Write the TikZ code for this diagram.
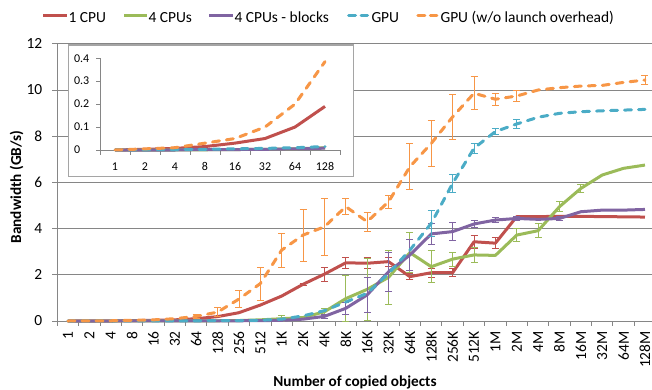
\documentclass[tikz,border=0pt]{standalone}
\usepackage{fontspec}
\setmainfont{Carlito}
\usetikzlibrary{arrows.meta}

\definecolor{cpuone}{RGB}{192,80,77}
\definecolor{cpufour}{RGB}{155,187,89}
\definecolor{cpublk}{RGB}{128,100,162}
\definecolor{gpuplain}{RGB}{75,172,198}
\definecolor{gpunolaunch}{RGB}{247,150,70}
\definecolor{gridgray}{RGB}{134,134,134}
\definecolor{framegray}{RGB}{165,165,165}

\begin{document}
\begin{tikzpicture}[x=1bp, y=1bp,
    series/.style={line width=3bp, line join=round},
    dashser/.style={series, line cap=round, dash pattern=on 7bp off 7bp},
    errbar/.style={line width=0.9bp, {Bar[width=7bp]}-{Bar[width=7bp]}},
    ticklab/.style={font=\fontsize{15.5}{18}\selectfont},
    insetlab/.style={font=\fontsize{12}{14}\selectfont},
    axtitle/.style={font=\fontsize{15.3}{18}\selectfont\bfseries}]
    \useasboundingbox (0,0) rectangle (652,389);

    % Grid lines, y axis, y labels
    \foreach \v in {2,4,...,12}
        \draw[gridgray, line width=1bp] (57.3,68+23.1*\v) -- (652,68+23.1*\v);
    \draw[gridgray, line width=1bp] (57.3,68) -- (57.3,345.2);
    \foreach \v in {0,2,...,12} {
        \draw[gridgray, line width=1bp] (52,68+23.1*\v) -- (57.3,68+23.1*\v);
        \node[ticklab, anchor=east, inner sep=0pt] (ylab\v) at (42.5,68+23.1*\v) {\v};
    }

    % x axis with category ticks
    \draw[gridgray, line width=1bp] (57.3,68) -- (652,68);
    \foreach \k in {0,...,27}
        \draw[gridgray, line width=1bp] (57.3+21.37*\k,68) -- (57.3+21.37*\k,63.5);
    \foreach \lab [count=\i from 0] in {1,2,4,8,16,32,64,128,256,512,1K,2K,4K,8K,16K,32K,64K,128K,256K,512K,1M,2M,4M,8M,16M,32M,64M,128M}
        \node[ticklab, rotate=90, anchor=east, inner sep=0pt] (xlab\i) at (67.985+21.37*\i,58) {\lab};

    % Axis titles
    \node[axtitle, rotate=90] (ytitle) at (16.7,202) {Bandwidth (GB/s)};
    \node[axtitle, anchor=base] (xtitle) at (355,2.5) {Number of copied objects};

    % Legend
    \draw[series, cpuone] (43.3,373.3) -- (66.7,373.3);
    \node[ticklab, anchor=base west, inner sep=0pt] (legA) at (68.3,366.3) {1 CPU};
    \draw[series, cpufour] (124,373.3) -- (146.7,373.3);
    \node[ticklab, anchor=base west, inner sep=0pt] (legB) at (148.3,366.3) {4 CPUs};
    \draw[series, cpublk] (209.3,373.3) -- (233.3,373.3);
    \node[ticklab, anchor=base west, inner sep=0pt] (legC) at (234.3,366.3) {4 CPUs - blocks};
    \draw[series, gpuplain, line cap=round, dash pattern=on 7bp off 5.5bp] (348.5,373.3) -- (367.5,373.3);
    \node[ticklab, anchor=base west, inner sep=0pt] (legD) at (371.3,366.3) {GPU};
    \draw[series, gpunolaunch, line cap=round, dash pattern=on 7bp off 5.5bp] (417.8,373.3) -- (436.8,373.3);
    \node[ticklab, anchor=base west, inner sep=0pt] (legE) at (440.3,366.3) {GPU (w/o launch overhead)};

    % Main chart: category i at x=i, value in GB/s
    \begin{scope}[shift={(67.985,68)}, x=21.37bp, y=23.1bp]
        % 1 CPU
        \draw[series, cpuone] plot coordinates {(0,0) (1,0.003) (2,0.007) (3,0.015) (4,0.03) (5,0.05) (6,0.1) (7,0.19) (8,0.36) (9,0.69) (10,1.08) (11,1.59) (12,2.03) (13,2.52) (14,2.5) (15,2.57) (16,1.92) (17,2.09) (18,2.09) (19,3.43) (20,3.37) (21,4.52) (22,4.52) (23,4.53) (24,4.53) (25,4.52) (26,4.51) (27,4.5)};
        \foreach \i/\v/\e in {11/1.59/0.06, 12/2.03/0.32, 13/2.52/0.25, 14/2.5/0.25, 15/2.57/0.22, 16/1.92/0.14, 17/2.09/0.22, 18/2.09/0.2, 19/3.43/0.29, 20/3.37/0.25}
            \draw[errbar, cpuone] (\i,\v-\e) -- (\i,\v+\e);

        % 4 CPUs
        \draw[series, cpufour] plot coordinates {(0,0) (1,0) (2,0) (3,0.001) (4,0.002) (5,0.003) (6,0.005) (7,0.01) (8,0.02) (9,0.05) (10,0.1) (11,0.15) (12,0.4) (13,0.97) (14,1.37) (15,1.89) (16,2.96) (17,2.35) (18,2.68) (19,2.86) (20,2.84) (21,3.72) (22,3.91) (23,4.95) (24,5.74) (25,6.32) (26,6.61) (27,6.75)};
        \foreach \i/\v/\e in {10/0.1/0.15, 12/0.4/0.17, 13/0.97/1.0, 14/1.37/1.37, 15/1.89/1.19, 16/2.96/0.88, 17/2.35/0.72, 18/2.68/0.32, 19/2.86/0.36, 21/3.72/0.31, 22/3.91/0.32, 23/4.95/0.23, 24/5.74/0.19}
            \draw[errbar, cpufour] (\i,\v-\e) -- (\i,\v+\e);

        % 4 CPUs - blocks
        \draw[series, cpublk] plot coordinates {(0,0) (1,0) (2,0) (3,0.002) (4,0.002) (5,0.003) (6,0.005) (7,0.008) (8,0.01) (9,0.015) (10,0.03) (11,0.08) (12,0.2) (13,0.55) (14,1.13) (15,2.13) (16,2.86) (17,3.77) (18,3.87) (19,4.2) (20,4.37) (21,4.44) (22,4.4) (23,4.44) (24,4.73) (25,4.8) (26,4.8) (27,4.83)};
        \foreach \i/\v/\e in {12/0.2/0.1, 13/0.55/0.29, 14/1.13/0.77, 15/2.13/0.87, 16/2.86/0.69, 17/3.77/0.49, 18/3.87/0.41, 19/4.2/0.18, 20/4.37/0.14, 21/4.44/0.1, 23/4.44/0.12}
            \draw[errbar, cpublk] (\i,\v-\e) -- (\i,\v+\e);

        % GPU
        \draw[dashser, gpuplain] plot coordinates {(0,0) (1,0.001) (2,0.002) (3,0.003) (4,0.005) (5,0.007) (6,0.01) (7,0.015) (8,0.02) (9,0.03) (10,0.08) (11,0.22) (12,0.45) (13,0.82) (14,1.2) (15,2.06) (16,3.07) (17,4.23) (18,5.96) (19,7.48) (20,8.2) (21,8.53) (22,8.82) (23,8.99) (24,9.06) (25,9.1) (26,9.13) (27,9.16)};
        \foreach \i/\v/\e in {17/4.23/0.58, 18/5.96/0.4, 19/7.48/0.24, 20/8.2/0.16, 21/8.53/0.22}
            \draw[errbar, gpuplain] (\i,\v-\e) -- (\i,\v+\e);

        % GPU without launch overhead
        \draw[dashser, gpunolaunch] plot coordinates {(0,0) (1,0.005) (2,0.01) (3,0.03) (4,0.05) (5,0.1) (6,0.2) (7,0.385) (8,0.95) (9,1.62) (10,3.07) (11,3.72) (12,4.08) (13,4.95) (14,4.3) (15,5.16) (16,6.68) (17,7.69) (18,8.84) (19,9.86) (20,9.6) (21,9.74) (22,10.0) (23,10.1) (24,10.17) (25,10.2) (26,10.33) (27,10.43)};
        \foreach \i/\v/\e in {6/0.2/0.1, 7/0.385/0.2, 8/0.95/0.4, 9/1.62/0.73, 10/3.07/0.76, 11/3.72/1.15, 12/4.08/1.26, 13/4.95/0.37, 14/4.3/0.43, 15/5.16/0.29, 16/6.68/1.01, 17/7.69/1.0, 18/8.84/1.0, 19/9.86/0.74, 20/9.6/0.27, 21/9.74/0.27, 27/10.43/0.22}
            \draw[errbar, gpunolaunch] (\i,\v-\e) -- (\i,\v+\e);
    \end{scope}

    % Inset: zoom on the small sizes
    \draw[framegray, fill=white, line width=1.2bp] (68.3,212.3) rectangle (353.3,344);
    \begin{scope}[shift={(100,239)}, x=30bp, y=229.5bp]
        \draw[gridgray, line width=1bp] (0,0) -- (0,0.4);
        \draw[gridgray, line width=1bp] (0,0) -- (8,0);
        \foreach \v in {0,0.1,0.2,0.3,0.4} {
            \draw[gridgray, line width=1bp] (-0.13,\v) -- (0,\v);
            \node[insetlab, anchor=west, inner sep=0pt] (iylab\v) at (-0.87,\v) {\v};
        }
        \foreach \k in {0,...,8}
            \draw[gridgray, line width=1bp] (\k,0) -- (\k,-0.02);
        \foreach \lab [count=\k from 0] in {1,2,4,8,16,32,64,128}
            \node[insetlab, inner sep=0pt] (ixlab\k) at (\k+0.5,-0.073) {\lab};

        \draw[series, cpuone] plot coordinates {(0.5,0) (1.5,0.003) (2.5,0.007) (3.5,0.015) (4.5,0.03) (5.5,0.05) (6.5,0.1) (7.5,0.19)};
        \draw[series, cpufour] plot coordinates {(0.5,0) (1.5,0) (2.5,0) (3.5,0.001) (4.5,0.002) (5.5,0.003) (6.5,0.005) (7.5,0.01)};
        \draw[series, cpublk] plot coordinates {(0.5,0) (1.5,0) (2.5,0) (3.5,0.002) (4.5,0.002) (5.5,0.003) (6.5,0.005) (7.5,0.008)};
        \draw[dashser, gpuplain] plot coordinates {(0.5,0) (1.5,0.001) (2.5,0.002) (3.5,0.003) (4.5,0.005) (5.5,0.007) (6.5,0.01) (7.5,0.015)};
        \draw[dashser, gpunolaunch] plot coordinates {(0.5,0) (1.5,0.005) (2.5,0.01) (3.5,0.03) (4.5,0.05) (5.5,0.1) (6.5,0.2) (7.5,0.385)};
    \end{scope}
\end{tikzpicture}
\end{document}
